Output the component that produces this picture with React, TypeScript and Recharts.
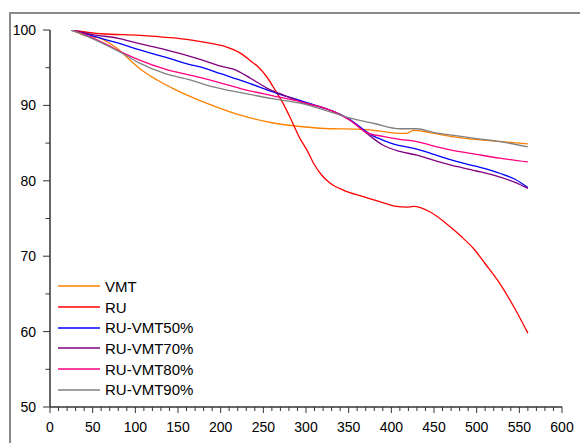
import { Legend, Line, LineChart, XAxis, YAxis } from 'recharts';

// [temperature, remaining mass %]
const vmt: [number, number][] = [
  [25, 100], [40, 99.3], [59, 98.9], [78, 97.6], [94, 96.0], [105, 94.9],
  [125, 93.4], [145, 92.2], [164, 91.2], [190, 90.0], [223, 88.7], [260, 87.7],
  [293, 87.2], [330, 86.9], [360, 86.85], [386, 86.6], [410, 86.3], [418, 86.3],
  [426, 86.7], [445, 86.4], [469, 85.9], [507, 85.4], [540, 85.1], [560, 84.9],
];

const ru: [number, number][] = [
  [25, 100], [60, 99.5], [105, 99.3], [140, 99.0], [164, 98.7], [185, 98.3],
  [203, 97.9], [225, 96.8], [234, 96.0], [245, 95.0], [254, 93.8],
  [264, 92.0], [273, 90.3], [283, 88.0], [293, 85.6], [300, 84.3], [309, 82.3],
  [318, 80.8], [328, 79.7], [345, 78.7], [367, 77.9], [390, 77.1], [406, 76.6],
  [418, 76.5], [426, 76.6], [445, 75.9], [469, 73.9], [482, 72.6], [496, 71.05],
  [510, 69.0], [527, 66.4], [545, 63.0], [560, 59.8],
];

const ruVmt50: [number, number][] = [
  [25, 100], [45, 99.4], [66, 98.7], [85, 98.1], [105, 97.35], [135, 96.4],
  [164, 95.4], [176, 95.1], [200, 94.2], [228, 93.15], [266, 91.6], [300, 90.4],
  [332, 89.2], [352, 88.1], [365, 87.0], [378, 86.0], [390, 85.4], [405, 84.8],
  [418, 84.5], [430, 84.2], [450, 83.5], [469, 82.8], [500, 81.9], [527, 81.0],
  [545, 80.2], [560, 79.1],
];

const ruVmt70: [number, number][] = [
  [25, 100], [50, 99.4], [80, 98.9], [105, 98.2], [135, 97.4], [164, 96.5],
  [176, 96.1], [200, 95.2], [215, 94.8], [235, 93.6], [254, 92.3], [275, 91.3],
  [293, 90.5], [332, 89.2], [352, 88.0], [371, 86.3], [390, 84.75], [410, 83.9],
  [430, 83.4], [450, 82.7], [469, 82.1], [500, 81.3], [527, 80.5], [545, 79.8],
  [560, 79.0],
];

const ruVmt80: [number, number][] = [
  [25, 100], [45, 99.2], [66, 98.1], [85, 97.0], [105, 96.0], [135, 94.8],
  [164, 94.0], [190, 93.3], [228, 92.1], [260, 91.3], [293, 90.5], [332, 89.2],
  [352, 88.0], [371, 86.4], [390, 85.9], [410, 85.5], [430, 85.2], [450, 84.6],
  [469, 84.1], [500, 83.5], [527, 83.0], [560, 82.5],
];

const ruVmt90: [number, number][] = [
  [25, 100], [45, 99.1], [66, 98.0], [85, 96.9], [105, 95.6], [135, 94.2],
  [164, 93.4], [190, 92.5], [228, 91.6], [260, 90.9], [293, 90.3], [332, 89.0],
  [352, 88.3], [380, 87.6], [410, 86.9], [420, 86.9], [430, 86.9], [450, 86.4],
  [469, 86.1], [500, 85.6], [527, 85.2], [560, 84.5],
];

const xTicks = Array.from({ length: 61 }, (_, i) => i * 10);
const yTicks = Array.from({ length: 11 }, (_, i) => 50 + i * 5);

const series = [
  { name: 'VMT', points: vmt, color: '#ff8000' },
  { name: 'RU', points: ru, color: '#ff0000' },
  { name: 'RU-VMT50%', points: ruVmt50, color: '#0000ff' },
  { name: 'RU-VMT70%', points: ruVmt70, color: '#800080' },
  { name: 'RU-VMT80%', points: ruVmt80, color: '#ff0080' },
  { name: 'RU-VMT90%', points: ruVmt90, color: '#808080' },
];

const FONT = '"Liberation Sans", Arial, sans-serif';
const AXIS = '#333';

function XTick({ x, y, payload }: any) {
  const major = payload.value % 50 === 0;
  return (
    <g>
      <line x1={x} y1={y} x2={x} y2={y + (major ? 6 : 4)} stroke={AXIS} strokeWidth={1} />
      {major && (
        <text x={x} y={y + 25} textAnchor="middle" fontSize={14} fontFamily={FONT} fill="#000">
          {payload.value}
        </text>
      )}
    </g>
  );
}

function YTick({ x, y, payload }: any) {
  const major = payload.value % 10 === 0;
  return (
    <g>
      <line x1={x - (major ? 7 : 4.5)} y1={y} x2={x} y2={y} stroke={AXIS} strokeWidth={1} />
      {major && (
        <text x={x - 14} y={y + 5} textAnchor="end" fontSize={14} fontFamily={FONT} fill="#000">
          {payload.value}
        </text>
      )}
    </g>
  );
}

function LegendBox() {
  return (
    <div style={{ fontFamily: FONT, fontSize: 15, color: '#000' }}>
      {series.map((s) => (
        <div key={s.name} style={{ display: 'flex', alignItems: 'center', height: 20.7 }}>
          <svg width={47} height={6} style={{ display: 'block' }}>
            <line x1={0} y1={3} x2={42} y2={3} stroke={s.color} strokeWidth={1.5} />
          </svg>
          <span>{s.name}</span>
        </div>
      ))}
    </div>
  );
}

export default function App() {
  return (
    <div style={{ position: 'absolute', left: 0, top: 0, width: 580, height: 443, overflow: 'hidden', background: '#fff' }}>
      <div
        style={{
          position: 'absolute',
          left: 9,
          top: 12,
          width: 600,
          height: 500,
          borderTop: '2px solid #8a8a8a',
          borderLeft: '2px solid #8a8a8a',
        }}
      />
      <div style={{ position: 'absolute', left: 0, top: 0 }}>
        <LineChart width={580} height={443} margin={{ top: 30, right: 18, bottom: 0, left: 0 }}>
          <XAxis
            type="number"
            dataKey="x"
            domain={[0, 600]}
            ticks={xTicks}
            interval={0}
            height={36}
            tickSize={0}
            tickMargin={0}
            tickLine={false}
            axisLine={{ stroke: AXIS, strokeWidth: 1.5 }}
            tick={<XTick />}
            allowDataOverflow
          />
          <YAxis
            type="number"
            domain={[50, 100]}
            ticks={yTicks}
            interval={0}
            width={50}
            tickSize={0}
            tickMargin={0}
            tickLine={false}
            axisLine={{ stroke: AXIS, strokeWidth: 1.5 }}
            tick={<YTick />}
            allowDataOverflow
          />
          <Legend
            layout="vertical"
            align="center"
            verticalAlign="middle"
            content={() => <LegendBox />}
            wrapperStyle={{ left: 58, top: 276, width: 200, height: 130 }}
          />
          {series.map((s) => (
            <Line
              key={s.name}
              name={s.name}
              data={s.points.map(([x, y]) => ({ x, y }))}
              dataKey="y"
              type="monotone"
              stroke={s.color}
              strokeWidth={1.3}
              dot={false}
              isAnimationActive={false}
            />
          ))}
        </LineChart>
      </div>
    </div>
  );
}
